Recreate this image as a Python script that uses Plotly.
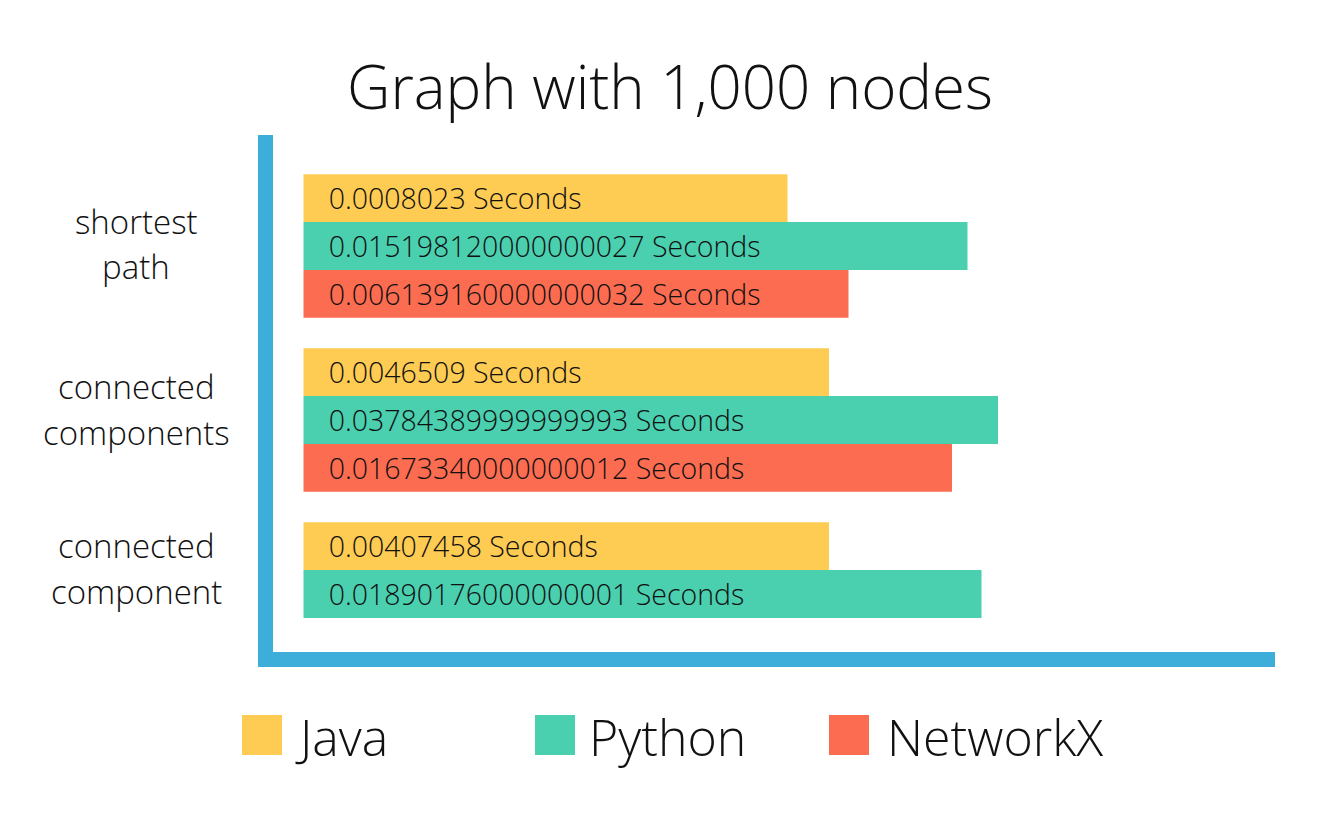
import plotly.graph_objects as go

# ---- data ----
categories = ["shortest path", "connected components", "connected component"]
category_lines = [["shortest", "path"], ["connected", "components"], ["connected", "component"]]
series = ["Java", "Python", "NetworkX"]

java_labels = ["0.0008023", "0.0046509", "0.00407458"]
python_labels = ["0.015198120000000027", "0.03784389999999993", "0.01890176000000001"]
networkx_labels = ["0.006139160000000032", "0.01673340000000012", None]

# displayed bar lengths (arbitrary display units)
java_bar = [484, 525.5, 525.5]
python_bar = [664, 694.5, 678]
networkx_bar = [545, 648.5, None]

colors = ["#FECB53", "#4ACFAF", "#FC6C50"]
AXIS_BLUE = "#3DAED9"
FONT = "Open Sans"
WEIGHT = 300

W, H = 1320, 825
ML, MR, MT, MB = 258, 45, 135, 158
PW = W - ML - MR
PH = H - MT - MB


def px_x(x):
    return (x - ML) / PW


def px_y(y):
    return 1 - (y - MT) / PH


fig = go.Figure()
for name, lens, labels, color in zip(series,
                                     [java_bar, python_bar, networkx_bar],
                                     [java_labels, python_labels, networkx_labels],
                                     colors):
    texts = [("\u00a0" * 3 + f"{t} Seconds") if t else "" for t in labels]
    fig.add_trace(go.Bar(
        y=categories, x=lens, orientation="h", name=name,
        marker=dict(color=color, line=dict(width=0)),
        text=texts, textposition="inside", insidetextanchor="start",
        textfont=dict(size=28.5, color="#111", family=FONT, weight=WEIGHT),
        constraintext="none", hoverinfo="skip",
    ))

fig.update_layout(
    width=W, height=H,
    paper_bgcolor="white", plot_bgcolor="white",
    barmode="group", bargap=0.175, bargroupgap=0,
    showlegend=False,
    margin=dict(l=ML, r=MR, t=MT, b=MB),
    font=dict(family=FONT, color="#111", weight=WEIGHT),
    title=dict(text="Graph with 1,000 nodes", x=670 / W, xanchor="center",
               y=1 - 88 / H, yanchor="middle", xref="container",
               font=dict(size=60, family=FONT, color="#111", weight=WEIGHT)),
    xaxis=dict(range=[-45.5, 971.5], visible=False, fixedrange=True),
    yaxis=dict(type="category", categoryorder="array", categoryarray=categories,
               range=[2.4195, -0.638], visible=False, fixedrange=True),
)

# axis lines
fig.add_shape(type="rect", xref="paper", yref="paper", x0=0, x1=15 / PW, y0=0, y1=1,
              fillcolor=AXIS_BLUE, line=dict(width=0), layer="below")
fig.add_shape(type="rect", xref="paper", yref="paper", x0=0, x1=1, y0=0, y1=15 / PH,
              fillcolor=AXIS_BLUE, line=dict(width=0), layer="below")

# category labels (one annotation per line)
line_centers = [[221, 266], [386, 432], [545, 591]]
for lines, cys in zip(category_lines, line_centers):
    for ln, cy in zip(lines, cys):
        fig.add_annotation(text=ln, xref="paper", yref="paper", x=px_x(136), y=px_y(cy),
                           xanchor="center", yanchor="middle", align="center", showarrow=False,
                           font=dict(size=33, family=FONT, color="#111", weight=WEIGHT))

# legend
sq_x = [242, 535, 829]
txt_x = [293, 587, 885]
for name, color, sx, tx in zip(series, colors, sq_x, txt_x):
    fig.add_shape(type="rect", xref="paper", yref="paper",
                  x0=px_x(sx), x1=px_x(sx + 40), y0=px_y(755), y1=px_y(715),
                  fillcolor=color, line=dict(width=0))
    fig.add_annotation(text=name, xref="paper", yref="paper", x=px_x(tx), y=px_y(737),
                       xanchor="left", yanchor="middle", showarrow=False,
                       font=dict(size=50, family=FONT, color="#111", weight=WEIGHT))

fig.write_html("out.html", config={"displayModeBar": False},
               post_script="document.body.style.margin='0';")
